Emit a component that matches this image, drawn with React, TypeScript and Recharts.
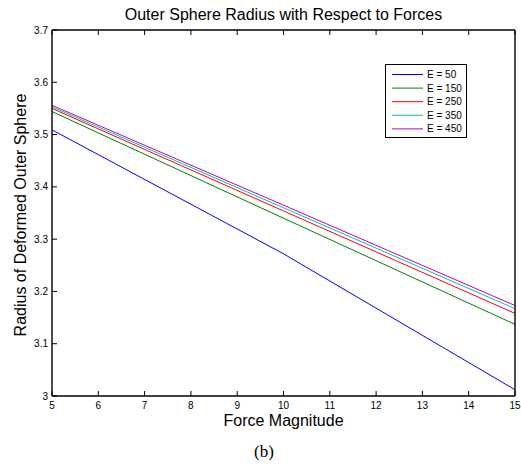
import React from "react";
import { LineChart, Line, XAxis, YAxis, Legend, Customized } from "recharts";

const forces = [5, 10, 15];
const e50 = [3.509, 3.272, 3.012];
const e150 = [3.544, 3.340, 3.137];
const e250 = [3.550, 3.354, 3.158];
const e350 = [3.553, 3.360, 3.167];
const e450 = [3.556, 3.365, 3.173];

const seriesNames = ["E = 50", "E = 150", "E = 250", "E = 350", "E = 450"];
const seriesKeys = ["e50", "e150", "e250", "e350", "e450"];
const seriesColors = ["#0000ff", "#008000", "#ff0000", "#00bfbf", "#bf00bf"];

const xTicks = [5, 6, 7, 8, 9, 10, 11, 12, 13, 14, 15];
const yTicks = [3, 3.1, 3.2, 3.3, 3.4, 3.5, 3.6, 3.7];
const yTickLabels = ["3", "3.1", "3.2", "3.3", "3.4", "3.5", "3.6", "3.7"];

const titleText = "Outer Sphere Radius with Respect to Forces";
const xLabelText = "Force Magnitude";
const yLabelText = "Radius of Deformed Outer Sphere";
const captionText = "(b)";

const data = forces.map((f, i) => ({
  f,
  e50: e50[i],
  e150: e150[i],
  e250: e250[i],
  e350: e350[i],
  e450: e450[i],
}));

const FONT = "'Liberation Sans', Arial, Helvetica, sans-serif";
const TICK = 5;
const AXIS = { stroke: "#000", strokeWidth: 1.4 };

const BottomTick = (props: any) => {
  const { x, y, payload } = props;
  return (
    <g>
      <line x1={x} y1={y} x2={x} y2={y - TICK} stroke="#000" strokeWidth={1} />
      <text x={x} y={y + 13} textAnchor="middle" fontSize={10} fontFamily={FONT} fill="#000">
        {payload.value}
      </text>
    </g>
  );
};

const TopTick = (props: any) => {
  const { x, y } = props;
  return <line x1={x} y1={y} x2={x} y2={y + TICK} stroke="#000" strokeWidth={1} />;
};

const LeftTick = (props: any) => {
  const { x, y, payload } = props;
  const idx = yTicks.findIndex((t) => Math.abs(t - payload.value) < 1e-6);
  const label = idx >= 0 ? yTickLabels[idx] : String(payload.value);
  return (
    <g>
      <line x1={x} y1={y} x2={x + TICK} y2={y} stroke="#000" strokeWidth={1} />
      <text x={x - 4} y={y} dy="0.35em" textAnchor="end" fontSize={10} fontFamily={FONT} fill="#000">
        {label}
      </text>
    </g>
  );
};

const RightTick = (props: any) => {
  const { x, y } = props;
  return <line x1={x} y1={y} x2={x - TICK} y2={y} stroke="#000" strokeWidth={1} />;
};

const Texts = () => (
  <g>
    <text x={283.5} y={20} textAnchor="middle" fontSize={16} fontFamily={FONT} fill="#000">
      {titleText}
    </text>
    <text x={283.5} y={426} textAnchor="middle" fontSize={16} fontFamily={FONT} fill="#000">
      {xLabelText}
    </text>
    <text
      x={0}
      y={0}
      transform="translate(26,215) rotate(-90)"
      textAnchor="middle"
      fontSize={16}
      fontFamily={FONT}
      fill="#000"
    >
      {yLabelText}
    </text>
    <text x={264} y={457} textAnchor="middle" fontSize={17} fontFamily="'Liberation Serif', 'Times New Roman', serif" fill="#000">
      {captionText}
    </text>
  </g>
);

const LegendBox = () => (
  <div
    style={{
      width: 82,
      height: 74,
      border: "1px solid #000",
      background: "#fff",
      boxSizing: "border-box",
      lineHeight: 0,
    }}
  >
    <svg width={80} height={72}>
      {seriesNames.map((n, i) => {
        const cy = 9.5 + i * 13.6;
        return (
          <g key={n}>
            <line x1={6} y1={cy} x2={37} y2={cy} stroke={seriesColors[i]} strokeWidth={1} />
            <text x={41} y={cy} dy="0.35em" fontSize={10} fontFamily={FONT} fill="#000">
              {n}
            </text>
          </g>
        );
      })}
    </svg>
  </div>
);

export default function App() {
  return (
    <div style={{ position: "absolute", left: 0, top: 0, width: 521, height: 470, background: "#fff" }}>
      <LineChart
        width={521}
        height={470}
        data={data}
        margin={{ top: 29, right: 5, bottom: 73, left: 51 }}
      >
        <XAxis
          dataKey="f"
          type="number"
          domain={[5, 15]}
          ticks={xTicks}
          height={1}
          tickSize={0}
          tickMargin={0}
          tickLine={false}
          axisLine={AXIS}
          tick={<BottomTick />}
          interval={0}
          allowDataOverflow
        />
        <XAxis
          xAxisId="top"
          orientation="top"
          dataKey="f"
          type="number"
          domain={[5, 15]}
          ticks={xTicks}
          height={1}
          tickSize={0}
          tickMargin={0}
          tickLine={false}
          axisLine={AXIS}
          tick={<TopTick />}
          interval={0}
        />
        <YAxis
          type="number"
          domain={[3, 3.7]}
          ticks={yTicks}
          width={1}
          tickSize={0}
          tickMargin={0}
          tickLine={false}
          axisLine={AXIS}
          tick={<LeftTick />}
          interval={0}
          allowDataOverflow
        />
        <YAxis
          yAxisId="right"
          orientation="right"
          type="number"
          domain={[3, 3.7]}
          ticks={yTicks}
          width={1}
          tickSize={0}
          tickMargin={0}
          tickLine={false}
          axisLine={AXIS}
          tick={<RightTick />}
          interval={0}
        />
        {seriesKeys.map((k, i) => (
          <Line
            key={k}
            dataKey={k}
            name={seriesNames[i]}
            stroke={seriesColors[i]}
            strokeWidth={1}
            dot={false}
            activeDot={false}
            isAnimationActive={false}
            type="linear"
          />
        ))}
        <Legend
          layout="vertical"
          align="center"
          verticalAlign="middle"
          wrapperStyle={{ left: 385, top: 64, width: 82, height: 74 }}
          content={() => <LegendBox />}
        />
        <Customized component={Texts} />
      </LineChart>
    </div>
  );
}
